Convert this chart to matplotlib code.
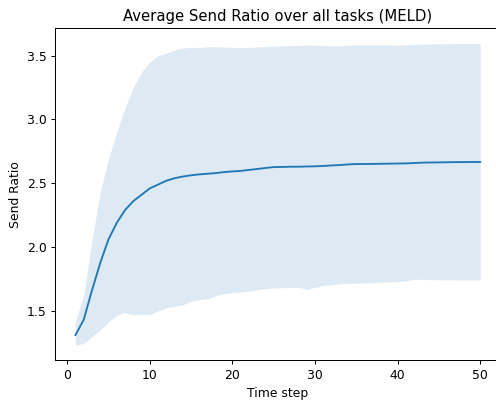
"""Average Send Ratio over all tasks (MELD) - media com faixa sombreada."""
import matplotlib

matplotlib.use("Agg")
import matplotlib.pyplot as plt
import numpy as np

steps = np.arange(1, 51)

send_mean = [1.311, 1.43, 1.66, 1.875, 2.06, 2.19, 2.29, 2.36, 2.41, 2.46,
             2.49, 2.52, 2.54, 2.553, 2.563, 2.57, 2.575, 2.58, 2.588, 2.593,
             2.597, 2.605, 2.612, 2.62, 2.627, 2.628, 2.63, 2.63, 2.632, 2.633,
             2.636, 2.64, 2.643, 2.648, 2.651, 2.651, 2.652, 2.653, 2.654, 2.655,
             2.656, 2.659, 2.662, 2.663, 2.664, 2.665, 2.666, 2.666, 2.667, 2.667]

send_upper = [1.42, 1.62, 2.05, 2.43, 2.69, 2.90, 3.09, 3.25, 3.37, 3.45,
              3.50, 3.52, 3.545, 3.56, 3.565, 3.565, 3.57, 3.57, 3.568, 3.565,
              3.563, 3.565, 3.568, 3.57, 3.575, 3.578, 3.58, 3.58, 3.584, 3.582,
              3.58, 3.578, 3.578, 3.582, 3.585, 3.585, 3.585, 3.585, 3.584, 3.583,
              3.584, 3.588, 3.59, 3.592, 3.593, 3.594, 3.594, 3.595, 3.595, 3.595]

send_lower = [1.233, 1.245, 1.30, 1.35, 1.415, 1.465, 1.488, 1.47, 1.475, 1.47,
              1.50, 1.525, 1.535, 1.548, 1.575, 1.59, 1.595, 1.62, 1.635, 1.645,
              1.648, 1.655, 1.665, 1.675, 1.68, 1.682, 1.684, 1.685, 1.67, 1.685,
              1.70, 1.705, 1.712, 1.717, 1.718, 1.72, 1.722, 1.725, 1.728, 1.73,
              1.735, 1.748, 1.747, 1.745, 1.744, 1.744, 1.743, 1.743, 1.743, 1.743]

DPI = 89
fig = plt.figure(figsize=(497 / DPI, 401 / DPI), dpi=DPI)
ax = fig.add_axes([0.111, 0.102, 0.896, 0.827])
ax.plot(steps, send_mean, color="#1f77b4", linewidth=1.5)
ax.fill_between(steps, send_lower, send_upper, color="#1f77b4", alpha=0.15, linewidth=0)

ax.set_title("Average Send Ratio over all tasks (MELD)")
ax.set_xlabel("Time step")
ax.set_ylabel("Send Ratio")
fig.savefig("out.png", dpi=DPI)
